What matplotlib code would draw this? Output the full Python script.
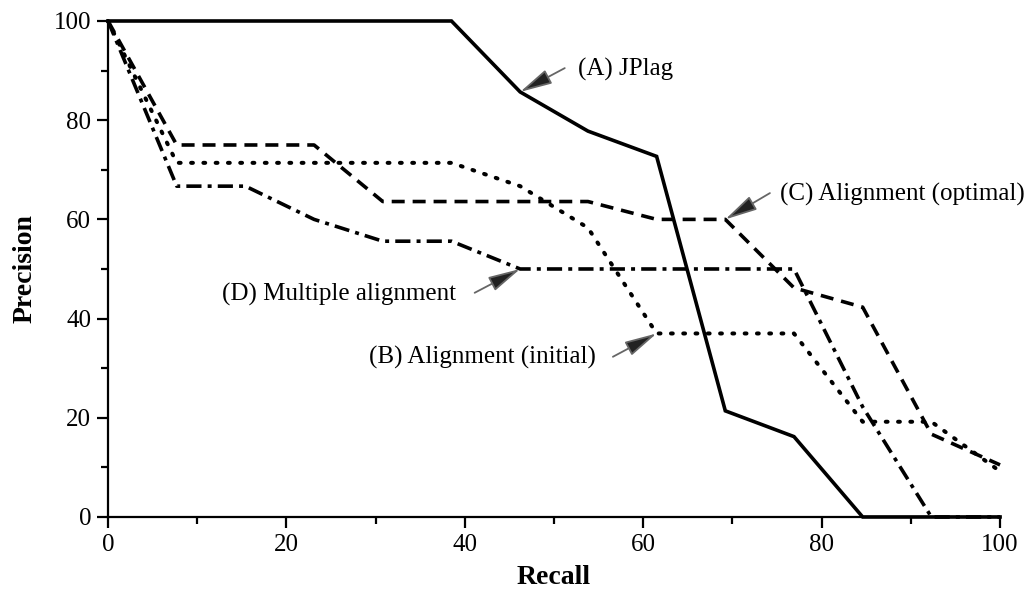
import matplotlib
matplotlib.use("Agg")
import matplotlib.pyplot as plt
from matplotlib.ticker import MultipleLocator

# recall / precision de cada metodo
recall_a = [0, 38.5, 46.2, 53.8, 61.5, 69.2, 76.9, 84.6, 100]
prec_a = [100, 100, 85.7, 77.8, 72.7, 21.4, 16.2, 0, 0]

recall_b = [0, 7.7, 38.5, 46.2, 53.8, 61.5, 76.9, 84.6, 92.3, 100]
prec_b = [100, 71.4, 71.4, 66.7, 58.3, 37.0, 37.0, 19.2, 19.2, 9.2]

recall_c = [0, 7.7, 23.1, 30.8, 53.8, 61.5, 69.2, 76.9, 84.6, 92.3, 100]
prec_c = [100, 75, 75, 63.6, 63.6, 60, 60, 46.2, 42.3, 16.7, 10.5]

recall_d = [0, 7.7, 15.4, 23.1, 30.8, 38.5, 46.2, 76.9, 84.6, 92.3, 100]
prec_d = [100, 66.7, 66.7, 60, 55.6, 55.6, 50, 50, 22.2, 0, 0]

etiquetas = ["(A) JPlag", "(B) Alignment (initial)",
             "(C) Alignment (optimal)", "(D) Multiple alignment"]

plt.rcParams["font.family"] = "Liberation Serif"
plt.rcParams["font.size"] = 18

fig = plt.figure(figsize=(10.26, 5.93), dpi=100)
ax = fig.add_axes([0.1053, 0.1282, 0.8694, 0.8364])

lw = 2.6
ax.plot(recall_a, prec_a, color="black", lw=lw, clip_on=False, solid_joinstyle="miter")
ax.plot(recall_b, prec_b, color="black", lw=lw + 0.3, linestyle=(0, (0.45, 2.6)),
        dash_capstyle="round", clip_on=False)
ax.plot(recall_c, prec_c, color="black", lw=lw, linestyle=(0, (3.6, 2.2)), clip_on=False)
ax.plot(recall_d, prec_d, color="black", lw=lw, linestyle=(0, (4.2, 1.7, 1.1, 1.7)),
        clip_on=False)

ax.set_xlim(0, 100)
ax.set_ylim(0, 100)
ax.xaxis.set_major_locator(MultipleLocator(20))
ax.xaxis.set_minor_locator(MultipleLocator(10))
ax.yaxis.set_major_locator(MultipleLocator(20))
ax.yaxis.set_minor_locator(MultipleLocator(10))
for s in ["top", "right"]:
    ax.spines[s].set_visible(False)
for s in ["left", "bottom"]:
    ax.spines[s].set_linewidth(1.6)
ax.tick_params(which="major", direction="out", length=8, width=1.6, pad=4)
ax.tick_params(which="minor", direction="out", length=5, width=1.6)

ax.set_xlabel("Recall", fontweight="bold", fontsize=20, labelpad=7)
ax.set_ylabel("Precision", fontweight="bold", fontsize=20, labelpad=12)

# anotaciones con flecha
flecha = dict(arrowstyle="-|>,head_length=1.1,head_width=0.26", ec="#666666",
              fc="#222222", lw=1.3, shrinkA=0, shrinkB=0)
ax.annotate("", xy=(recall_a[2], prec_a[2]), xytext=(51.2, 90.5), arrowprops=flecha)
ax.text(52.7, 90.3, etiquetas[0], ha="left", va="center")

ax.annotate("", xy=(recall_c[6], prec_c[6]), xytext=(74.2, 65.3), arrowprops=flecha)
ax.text(75.3, 65.0, etiquetas[2], ha="left", va="center")

ax.annotate("", xy=(recall_d[6], prec_d[6]), xytext=(41.1, 45.2), arrowprops=flecha)
ax.text(39.0, 44.8, etiquetas[3], ha="right", va="center")

ax.annotate("", xy=(recall_b[5], prec_b[5]), xytext=(56.6, 32.3), arrowprops=flecha)
ax.text(54.7, 32.1, etiquetas[1], ha="right", va="center")

fig.savefig("out.png", dpi=100)
